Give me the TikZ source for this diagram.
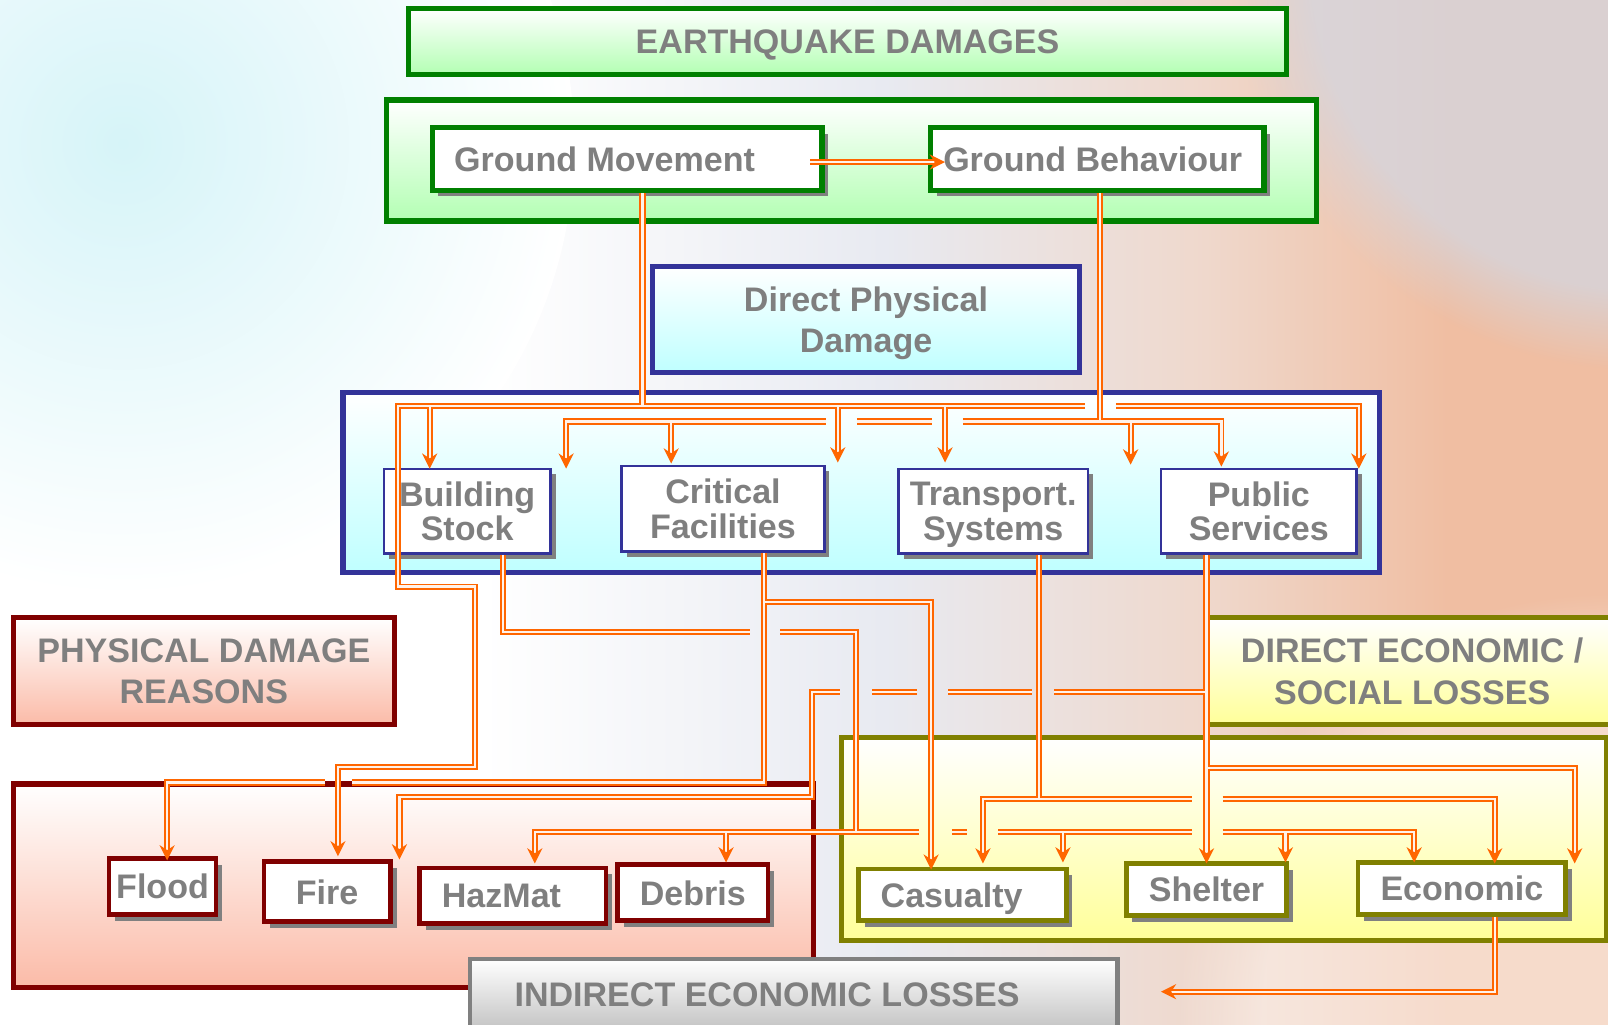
\documentclass[tikz,border=0pt]{standalone}
\usepackage{fontspec}
\setmainfont{Liberation Sans}
\usetikzlibrary{shadows,fadings}
\definecolor{orgC}{HTML}{FF6600}
\definecolor{innC}{HTML}{FFF2EA}
\definecolor{txtC}{HTML}{7F7F7F}
\definecolor{grnC}{HTML}{008000}
\definecolor{grnF}{HTML}{B3FFB3}
\definecolor{navC}{HTML}{333399}
\definecolor{cyaF}{HTML}{BFFFFF}
\definecolor{redC}{HTML}{800000}
\definecolor{salF}{HTML}{FBBBA8}
\definecolor{oliC}{HTML}{808000}
\definecolor{yelF}{HTML}{FFFF99}
\definecolor{gryC}{HTML}{808080}
\definecolor{gryF}{HTML}{C0C0C0}
\definecolor{shdC}{HTML}{808080}
\definecolor{bgM}{HTML}{E8EAF1}
\definecolor{bgP}{HTML}{EFD8CC}
\definecolor{bgR}{HTML}{F0BEA2}
\definecolor{bgC}{HTML}{D6F4F8}
\definecolor{bgT}{HTML}{D3D7E2}

\pgfdeclarehorizontalshading{bgshade}{100bp}{color(0bp)=(white); color(25bp)=(white); color(40bp)=(white); color(52.5bp)=(bgM); color(62.5bp)=(bgP); color(70bp)=(bgR); color(100bp)=(bgR)}

\tikzset{
  box/.style={align=center, inner sep=0pt, text=txtC, text depth=0pt},
  shd/.style={drop shadow={shadow xshift=6pt, shadow yshift=-6pt, fill=shdC, opacity=1}},
  shdb/.style={drop shadow={shadow xshift=5pt, shadow yshift=-5pt, fill=shdC, opacity=1}},
  bigG/.style={box, draw=grnC, line width=5pt, top color=white, bottom color=grnF},
  bigB/.style={box, draw=navC, line width=5pt, top color=white, bottom color=cyaF},
  bigR/.style={box, draw=redC, line width=5pt, top color=white, bottom color=salF},
  bigY/.style={box, draw=oliC, line width=5pt, top color=white, bottom color=yelF},
  bigK/.style={box, draw=gryC, line width=4.5pt, top color=white, bottom color=gryF},
  inG/.style={box, shd, draw=grnC, line width=5pt, fill=white},
  inB/.style={box, shdb, draw=navC, line width=2.5pt, fill=white,
              font=\bfseries\fontsize{33.2}{34}\selectfont},
  inR/.style={box, shd, draw=redC, line width=4.5pt, fill=white},
  inY/.style={box, shd, draw=oliC, line width=4.5pt, fill=white},
  outerln/.style={draw=orgC, line width=6pt},
  innerln/.style={draw=innC, line width=2.2pt},
  tipD/.pic={\fill[orgC] (0,0) -- (-7.5,-15) -- (0,-10) -- (7.5,-15) -- cycle;},
  tipL/.pic={\fill[orgC] (0,0) -- (15,-7.5) -- (10,0) -- (15,7.5) -- cycle;},
  tipR/.pic={\fill[orgC] (0,0) -- (-15,-7.5) -- (-10,0) -- (-15,7.5) -- cycle;},
}

\newcommand\connpaths[1]{%
  \draw[#1] (gmE) -- ([xshift=-8pt]tGB);
  \draw[#1] (gmS) -- (626.5,396);
  \draw[#1] (1058,396) -- (388,396) -- (388,572) -- (463.5,572) -- (463.5,748) -- (329.5,748) -- ([yshift=8pt]tFire);
  \draw[#1] (1088,396) -- (1325,396) -- ([yshift=8pt]tPSb);
  \draw[#1] (419,396) -- ([yshift=8pt]tBS);
  \draw[#1] (817,396) -- ([yshift=8pt]tXa);
  \draw[#1] (921.5,396) -- ([yshift=8pt]tTS);
  \draw[#1] (gbS) -- (1072.5,411);
  \draw[#1] ([yshift=8pt]tXb) -- (552,411) -- (805,411);
  \draw[#1] (835.5,411) -- (908.5,411);
  \draw[#1] (939,411) -- (1191,411) -- ([yshift=8pt]tPSa);
  \draw[#1] (654.5,411) -- ([yshift=8pt]tCF);
  \draw[#1] (1102.5,411) -- ([yshift=8pt]tXc);
  \draw[#1] (bsS) -- (490.5,616) -- (731,616);
  \draw[#1] (761,616) -- (835,616) -- (835,811);
  \draw[#1] ([yshift=8pt]tHaz) -- (521.5,811) -- (895.7,811);
  \draw[#1] (928.3,811) -- (943.4,811);
  \draw[#1] (973.6,811) -- (1162,811);
  \draw[#1] (1192.2,811) -- (1379,811) -- ([yshift=8pt]tEcoA);
  \draw[#1] (708,811) -- ([yshift=8pt]tDeb);
  \draw[#1] (1036.5,811) -- ([yshift=8pt]tCasC);
  \draw[#1] (1253.5,811) -- ([yshift=8pt]tSheB);
  \draw[#1] (cfS) -- (745,763) -- (343.5,763);
  \draw[#1] (317,763) -- (163,763) -- ([yshift=8pt]tFlood);
  \draw[#1] (745,587) -- (908,587) -- ([yshift=8pt]tCasA);
  \draw[#1] (tsS) -- (1013,779);
  \draw[#1] ([yshift=8pt]tCasB) -- (958.5,779) -- (1162,779);
  \draw[#1] (1192.2,779) -- (1457.5,779) -- ([yshift=8pt]tEcoB);
  \draw[#1] (psS) -- ([yshift=8pt]tSheA);
  \draw[#1] (1176.5,749) -- (1535.5,749) -- ([yshift=8pt]tEcoC);
  \draw[#1] (1176.5,674.5) -- (1028,674.5);
  \draw[#1] (1006,674.5) -- (924,674.5);
  \draw[#1] (894.4,674.5) -- (850,674.5);
  \draw[#1] (818.8,674.5) -- (791.5,674.5) -- (791.5,777) -- (389.5,777) -- ([yshift=8pt]tXd);
  \draw[#1] (ecS) -- (1457.5,967) -- ([xshift=8pt]tIEL);
}

\begin{document}
\begin{tikzpicture}[x=1pt, y=-1pt, font=\bfseries\fontsize{33.2}{40.3}\selectfont]
\useasboundingbox (0,0) rectangle (1568,999);
% background
\shade[shading=bgshade] (0,0) rectangle (1568,999);
\begin{scope}
  \clip (0,0) rectangle (1568,999);
  \shade[inner color=bgC, outer color=white] (120,140) circle [radius=440pt];
  \fill[bgT, opacity=0.75, path fading=circle with fuzzy edge 20 percent] (1600,-40) circle [radius=400pt];
  \fill[white, opacity=0.45, path fading=circle with fuzzy edge 20 percent] (1568,1000) circle [radius=420pt];
\end{scope}

% big frames
\node[bigG, minimum width=856pt, minimum height=64pt] (EQ) at (826.5,40.5) {EARTHQUAKE DAMAGES};
\node[bigG, minimum width=907pt, minimum height=118pt] (GRD) at (830,156.5) {};
\node[bigB, minimum width=416pt, minimum height=104pt] (DPD) at (844.5,311.5) {Direct Physical\\Damage};
\node[bigB, minimum width=1011pt, minimum height=176pt] (BLU) at (840,470.5) {};
\node[bigR, minimum width=371.5pt, minimum height=104pt] (PDR) at (198.75,654.5) {PHYSICAL DAMAGE\\REASONS};
\node[bigY, minimum width=402pt, minimum height=103.6pt] (DESL) at (1377,654.3) {DIRECT ECONOMIC /\\SOCIAL LOSSES};
\node[bigR, minimum width=780pt, minimum height=198pt] (RED) at (403,863.5) {};
\node[bigY, minimum width=746pt, minimum height=198pt] (YEL) at (1193.5,818.5) {};
\node[bigK, minimum width=631.5pt, minimum height=72.5pt] (IEL) at (774,971.5) {\raisebox{4pt}{INDIRECT ECONOMIC LOSSES}\hspace*{52pt}};

% inner boxes
\node[inG, minimum width=380pt, minimum height=61pt] (GM) at (611.5,155) {Ground Movement\hspace*{44pt}};
\node[inG, minimum width=325pt, minimum height=61pt] (GB) at (1070,155) {Ground Behaviour\hspace*{9pt}};
\node[inB, minimum width=162.5pt, minimum height=82.5pt] (BS) at (455.5,498.5) {Building\\Stock};
\node[inB, minimum width=197.5pt, minimum height=83.5pt] (CF) at (705,496) {Critical\\Facilities};
\node[inB, minimum width=184.5pt, minimum height=82.5pt] (TS) at (968.5,498.5) {Transport.\\Systems};
\node[inB, minimum width=190.5pt, minimum height=82.5pt] (PS) at (1227.5,498.5) {Public\\Services};
\node[inR, minimum width=104.5pt, minimum height=54.5pt] (Flood) at (158.5,864.5) {Flood};
\node[inR, minimum width=123.5pt, minimum height=58.5pt] (Fire) at (319,869.5) {Fire};
\node[inR, minimum width=181.5pt, minimum height=54.5pt] (HazMat) at (500,873.5) {HazMat\hspace*{22pt}};
\node[inR, minimum width=146.5pt, minimum height=54.5pt] (Debris) at (675.5,870.5) {Debris};
\node[inY, minimum width=202.5pt, minimum height=50.5pt] (Casualty) at (938.5,872.5) {Casualty\hspace*{21pt}};
\node[inY, minimum width=156.5pt, minimum height=50.5pt] (Shelter) at (1176.5,867.5) {Shelter};
\node[inY, minimum width=202.5pt, minimum height=50.5pt] (Economic) at (1425.5,866.5) {Economic};

% connector end points
\coordinate (gmE) at ([xshift=-14pt,yshift=-3pt]GM.east);
\coordinate (gmS) at ([xshift=15pt]GM.south);
\coordinate (gbS) at ([xshift=2.5pt]GB.south);
\coordinate (bsS) at ([xshift=35pt]BS.south);
\coordinate (cfS) at ([xshift=40pt]CF.south);
\coordinate (tsS) at ([xshift=44.5pt]TS.south);
\coordinate (psS) at ([xshift=-51pt]PS.south);
\coordinate (ecS) at ([xshift=32pt]Economic.south);
\coordinate (tGB) at (921.5,158);
\coordinate (tBS) at (419,457);
\coordinate (tXb) at (552,457);
\coordinate (tCF) at (654.5,452);
\coordinate (tXa) at (817,451);
\coordinate (tTS) at (921.5,451);
\coordinate (tXc) at (1102.5,453);
\coordinate (tPSa) at (1191,455);
\coordinate (tPSb) at (1325,457);
\coordinate (tFlood) at (163,839);
\coordinate (tFire) at (329.5,835);
\coordinate (tXd) at (389.5,838);
\coordinate (tHaz) at (521.5,842);
\coordinate (tDeb) at (708,841);
\coordinate (tCasA) at (908,848);
\coordinate (tCasB) at (958.5,842);
\coordinate (tCasC) at (1036.5,841);
\coordinate (tSheA) at (1176.5,842);
\coordinate (tSheB) at (1253.5,841);
\coordinate (tEcoA) at (1379,841);
\coordinate (tEcoB) at (1457.5,842);
\coordinate (tEcoC) at (1535.5,842);
\coordinate (tIEL) at (1132,967);

% connectors: orange outer pass then light inner pass
\connpaths{outerln}
\connpaths{innerln}

% arrow heads
\pic at (tGB) {tipR};
\foreach \t in {tBS,tXb,tCF,tXa,tTS,tXc,tPSa,tPSb,tFlood,tFire,tXd,tHaz,tDeb,tCasA,tCasB,tCasC,tSheA,tSheB,tEcoA,tEcoB,tEcoC}
  \pic at (\t) {tipD};
\pic at (tIEL) {tipL};
\end{tikzpicture}
\end{document}
